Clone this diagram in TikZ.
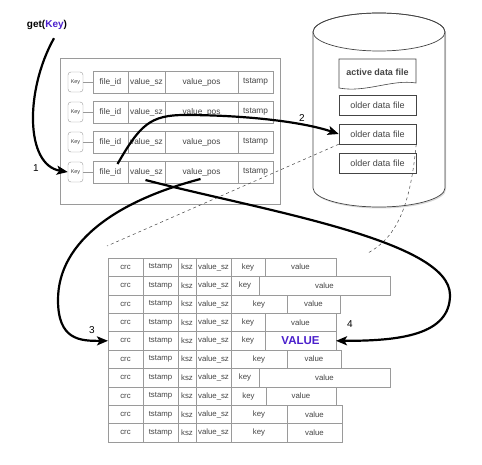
\documentclass[tikz,border=0pt]{standalone}
\usepackage{fontspec}
\setmainfont{Liberation Sans}
\usetikzlibrary{calc}
\usetikzlibrary{shapes,arrows.meta,shadows}

\definecolor{keypurple}{HTML}{4A1FCC}
\definecolor{cellgray}{HTML}{9A9A9A}
\definecolor{textgray}{HTML}{444444}
\newcommand{\bigvalue}{\textcolor{keypurple}{\bfseries\fontsize{11.5}{12}\selectfont VALUE}}

\begin{document}
\begin{tikzpicture}[x=1pt,y=-1pt,
    cellnode/.style={rectangle, draw=cellgray, fill=white, inner sep=0pt, outer sep=0pt, anchor=west, text=textgray, font=\fontsize{7.8}{8}\selectfont},
    hashcell/.style={cellnode, minimum height=22pt, font=\fontsize{8.3}{9}\selectfont},
    datacell/.style={cellnode, minimum height=18.4pt},
    keynode/.style={rectangle, rounded corners=3pt, draw=cellgray, fill=white, minimum width=15pt, minimum height=20pt, inner sep=0pt, text=textgray, font=\fontsize{5.5}{6}\selectfont},
    filenode/.style={rectangle, draw=textgray, fill=white, minimum width=77pt, minimum height=20pt, inner sep=0pt, text=textgray, font=\fontsize{9}{10}\selectfont},
    steparrow/.style={line width=2.2pt, -{Stealth[length=11pt,width=9pt,inset=2.5pt]}},
    numnode/.style={font=\fontsize{10}{11}\selectfont},
    zoomline/.style={dashed, draw=textgray, line width=0.5pt}
    ]
  \useasboundingbox (0,0) rectangle (482,465);
  % hash table
  \node[draw=cellgray, fill=white, line width=0.8pt, minimum width=220pt, minimum height=146pt,
        drop shadow={shadow xshift=1pt, shadow yshift=-1pt, opacity=0.3}] (HashTable) at (170,131) {};
  \node[font=\bfseries\fontsize{10}{12}\selectfont] (Get) at (47,25) {get(\textcolor{keypurple}{Key})};
  \foreach \i/\ypos in {1/82,2/112,3/142,4/172}{
    \node[keynode] (HKey\i) at (75.5,\ypos) {Key};
    \node[hashcell, minimum width=35pt] (FileId\i) at (93,\ypos) {file\_id};
    \node[hashcell, minimum width=37pt] (ValueSz\i) at (FileId\i.east) {value\_sz};
    \node[hashcell, minimum width=73pt] (ValuePos\i) at (ValueSz\i.east) {value\_pos};
    \node[hashcell, minimum width=35pt] (Tstamp\i) at (ValuePos\i.east) {tstamp};
    \draw[draw=cellgray] (HKey\i) -- (FileId\i);
  }
  % disk
  \draw[draw=textgray, fill=white, line width=0.7pt, drop shadow={shadow xshift=1pt, shadow yshift=-1.5pt, opacity=0.3}]
    (313,32) -- (313,188) arc[start angle=180, end angle=360, x radius=66pt, y radius=19pt]
    -- (445,32) arc[start angle=0, end angle=180, x radius=66pt, y radius=19pt] -- cycle;
  \draw[draw=textgray, line width=0.7pt] (379,32) ellipse[x radius=66pt, y radius=19pt];
  \coordinate (ActiveNW) at (339,59);
  \coordinate (ActiveSE) at (416,83);
  \draw[draw=textgray, line width=0.6pt, fill=white] (ActiveNW) -- (ActiveNW -| ActiveSE) -- (ActiveSE)
    .. controls (392,79) and (366,93) .. (339,88) -- cycle;
  \node[font=\bfseries\fontsize{9}{10}\selectfont, text=textgray] (Active) at (377.5,72) {active data file};
  \node[filenode] (OldFile1) at (377.5,105.5) {older data file};
  \node[filenode] (OldFile2) at (377.5,134) {older data file};
  \node[filenode] (OldFile3) at (377.5,163) {older data file};
  % data file
  \foreach \i/\kw/\vw/\vt in {1/34/71/value, 2/28/131/value, 3/56/53/value, 4/34/71/value, 5/34/71/\bigvalue,
                              6/56/54/value, 7/28/131/value, 8/35/70/value, 9/56/55/value, 10/56/55/value}{
    \pgfmathsetmacro\ypos{258+18.4*(\i-0.5)}
    \node[datacell, minimum width=35pt] (Crc\i) at (108,\ypos) {crc};
    \node[datacell, minimum width=35pt] (Ts\i) at (Crc\i.east) {tstamp};
    \node[datacell, minimum width=18pt] (Ksz\i) at (Ts\i.east) {ksz};
    \node[datacell, minimum width=35pt] (Vsz\i) at (Ksz\i.east) {value\_sz};
    \node[datacell, minimum width=\kw pt] (DKey\i) at (Vsz\i.east) {key};
    \node[datacell, minimum width=\vw pt] (DVal\i) at (DKey\i.east) {\vt};
  }
  % zoom lines
  \coordinate (ZoomL) at (107,246);
  \coordinate (ZoomR) at (368,253);
  \draw[zoomline] (OldFile2.south west) -- (ZoomL);
  \draw[zoomline] (OldFile2.south east) .. controls (410,210) and (395,238) .. (ZoomR);
  % arrows
  \draw[steparrow] ($(Get.south)+(7,5)$) .. controls (25,90) and (25,165) .. (HKey4.west);
  \draw[steparrow] ($(FileId4)+(7,-8)$) .. controls (140,125) and (150,115) .. (185,115)
    .. controls (240,115) and (300,121) .. (OldFile2.west);
  \draw[steparrow] ($(ValuePos4)+(-1,7)$) .. controls (120,200) and (58,240) .. (58,300)
    .. controls (58,340) and (80,341) .. (Crc5.west);
  \draw[steparrow] ($(ValueSz4)+(-1,8)$) .. controls (260,210) and (450,240) .. (450,295)
    .. controls (450,335) and (400,341) .. (DVal5.east);
  \node[numnode] (Num1) at (36,168) {1};
  \node[numnode] (Num2) at (302,118) {2};
  \node[numnode] (Num3) at (92,330) {3};
  \node[numnode] (Num4) at (350,324) {4};
\end{tikzpicture}
\end{document}
